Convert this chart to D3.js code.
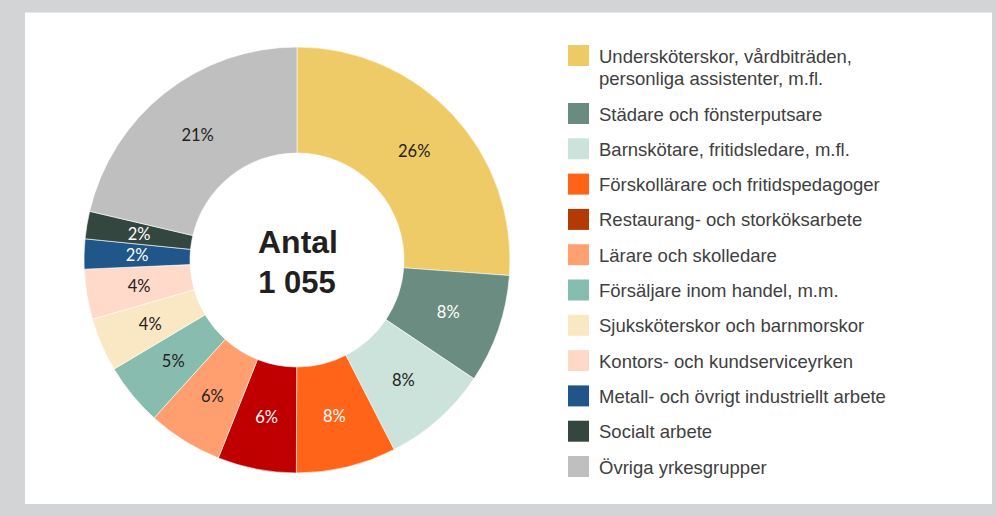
<!DOCTYPE html>
<html>
<head>
<meta charset="utf-8">
<script src="https://cdn.jsdelivr.net/npm/d3@7"></script>
<style>
html,body{margin:0;padding:0;background:#d3d4d6;}
svg{display:block;}
</style>
</head>
<body>
<svg id="chart" width="996" height="516"></svg>
<script>
// ---- data ----
const categories = [
  "Undersköterskor, vårdbiträden,\npersonliga assistenter, m.fl.",
  "Städare och fönsterputsare",
  "Barnskötare, fritidsledare, m.fl.",
  "Förskollärare och fritidspedagoger",
  "Restaurang- och storköksarbete",
  "Lärare och skolledare",
  "Försäljare inom handel, m.m.",
  "Sjuksköterskor och barnmorskor",
  "Kontors- och kundserviceyrken",
  "Metall- och övrigt industriellt arbete",
  "Socialt arbete",
  "Övriga yrkesgrupper"
];
const counts = [276, 87, 85, 80, 63, 60, 50, 43, 40, 24, 22, 225];
const percentLabels = ["26%", "8%", "8%", "8%", "6%", "6%", "5%", "4%", "4%", "2%", "2%", "21%"];
const sliceColors = ["#eecb66", "#6b8c80", "#cce3db", "#ff6418", "#c00000", "#ff9e6f", "#88bcae", "#fae8c4", "#ffd9c9", "#21568b", "#344640", "#bfbfbf"];
const legendColors = ["#edca65", "#6a8b7f", "#cce3dc", "#ff6315", "#b33a00", "#ffa070", "#87bdb0", "#f9e9c3", "#ffd8c8", "#205589", "#35463f", "#bfbfbf"];
const labelColors = ["#222", "#fff", "#222", "#fff", "#fff", "#222", "#222", "#222", "#222", "#fff", "#fff", "#222"];
const centerTitle = "Antal";
const centerTotal = "1 055";

// ---- drawing ----
const svg = d3.select("#chart");
svg.append("rect").attr("x", 25).attr("y", 12.5).attr("width", 967).attr("height", 491.5).attr("fill", "#ffffff");

const cx = 297, cy = 260, rOuter = 213, rInner = 107;
const g = svg.append("g").attr("transform", `translate(${cx},${cy})`);

const data = categories.map((c, i) => ({ name: c, value: counts[i], i }));
const pie = d3.pie().value(d => d.value).sort(null);
const arcs = pie(data);
const arc = d3.arc().innerRadius(rInner).outerRadius(rOuter);
const labelArc = d3.arc().innerRadius(160).outerRadius(160);

g.selectAll("path.slice").data(arcs).join("path")
  .attr("class", "slice")
  .attr("d", arc)
  .attr("fill", d => sliceColors[d.data.i])
  .attr("stroke", "#ffffff")
  .attr("stroke-width", 0.6);

g.selectAll("text.pct").data(arcs).join("text")
  .attr("class", "pct")
  .attr("transform", d => `translate(${labelArc.centroid(d)})`)
  .attr("text-anchor", "middle")
  .attr("dominant-baseline", "central")
  .attr("font-family", "Lato, 'Open Sans', sans-serif")
  .attr("font-size", 16.5)
  .attr("fill", d => labelColors[d.data.i])
  .text(d => percentLabels[d.data.i]);

g.append("text").attr("x", 1).attr("y", -7).attr("text-anchor", "middle")
  .attr("font-family", "'Liberation Sans', Arial, sans-serif").attr("font-weight", "bold")
  .attr("font-size", 32).attr("fill", "#231f20").text(centerTitle);
g.append("text").attr("x", 0).attr("y", 33).attr("text-anchor", "middle")
  .attr("font-family", "'Liberation Sans', Arial, sans-serif").attr("font-weight", "bold")
  .attr("font-size", 31).attr("fill", "#231f20").text(centerTotal);

// legend
const legend = svg.append("g").attr("transform", "translate(568,0)");
const itemTops = categories.map((c, i) => i === 0 ? 45 : 103 + (i - 1) * 35.3);
const items = legend.selectAll("g.item").data(categories).join("g")
  .attr("class", "item")
  .attr("transform", (d, i) => `translate(0,${itemTops[i]})`);
items.append("rect").attr("width", 21).attr("height", 21)
  .attr("fill", (d, i) => legendColors[i]);
items.each(function (d) {
  const lines = d.split("\n");
  const t = d3.select(this).append("text")
    .attr("font-family", "'Liberation Sans', Arial, sans-serif")
    .attr("font-size", 18.5).attr("fill", "#404040");
  lines.forEach((ln, k) => {
    t.append("tspan").attr("x", 31).attr("y", 17.5 + k * 22).text(ln);
  });
});
</script>
</body>
</html>
